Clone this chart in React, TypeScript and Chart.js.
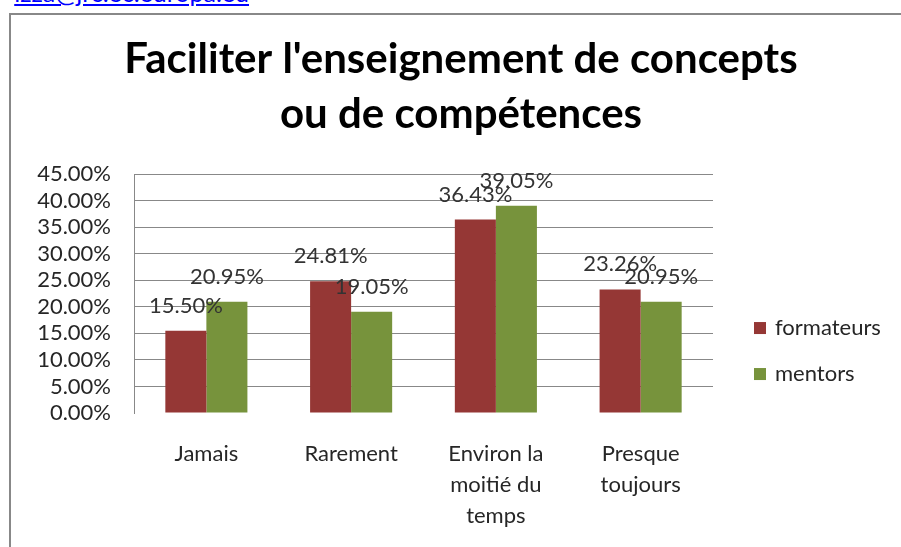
import React, { useEffect, useRef } from "react";
import { Chart, registerables } from "chart.js";

Chart.register(...registerables);

const categories: (string | string[])[] = [
  "Jamais",
  "Rarement",
  ["Environ la", "moitié du", "temps"],
  ["Presque", "toujours"],
];
const formateurs = [15.5, 24.81, 36.43, 23.26];
const mentors = [20.95, 19.05, 39.05, 20.95];
const seriesNames = ["formateurs", "mentors"];
const seriesColors = ["#953735", "#77933C"];
const titleLines = ["Faciliter l'enseignement de concepts", "ou de compétences"];
const yMin = 0;
const yMax = 45;
const yStep = 5;

const FONT = "Lato, 'Open Sans', sans-serif";
const TXT = 22;

const dataLabels = {
  id: "dataLabels",
  afterDatasetsDraw(chart: any) {
    const ctx = chart.ctx;
    ctx.save();
    ctx.font = `${TXT}px ${FONT}`;
    ctx.fillStyle = "#333333";
    ctx.textAlign = "center";
    ctx.textBaseline = "alphabetic";
    chart.data.datasets.forEach((ds: any, di: number) => {
      const meta = chart.getDatasetMeta(di);
      meta.data.forEach((bar: any, i: number) => {
        ctx.fillText(Number(ds.data[i]).toFixed(2) + "%", bar.x, bar.y - 18);
      });
    });
    ctx.restore();
  },
};

const sideLegend = {
  id: "sideLegend",
  afterDraw(chart: any) {
    const ctx = chart.ctx;
    const area = chart.chartArea;
    ctx.save();
    ctx.font = `${TXT}px ${FONT}`;
    ctx.textAlign = "left";
    ctx.textBaseline = "middle";
    chart.data.datasets.forEach((ds: any, i: number) => {
      const cy = area.top + 154 + i * 46;
      const bx = area.right + 41;
      ctx.fillStyle = ds.backgroundColor;
      ctx.fillRect(bx, cy - 6, 12, 12);
      ctx.fillStyle = "#262626";
      ctx.fillText(ds.label, bx + 21, cy);
    });
    ctx.restore();
  },
};

export default function App() {
  const canvasRef = useRef<HTMLCanvasElement | null>(null);

  useEffect(() => {
    let chart: Chart | null = null;
    let cancelled = false;
    const build = () => {
      if (cancelled || !canvasRef.current) return;
      chart = new Chart(canvasRef.current, {
        type: "bar",
        data: {
          labels: categories as any,
          datasets: [
            {
              label: seriesNames[0],
              data: formateurs,
              backgroundColor: seriesColors[0],
              categoryPercentage: 0.567,
              barPercentage: 1,
            },
            {
              label: seriesNames[1],
              data: mentors,
              backgroundColor: seriesColors[1],
              categoryPercentage: 0.567,
              barPercentage: 1,
            },
          ],
        },
        options: {
          animation: false,
          responsive: false,
          layout: { padding: { left: 10, right: 0, top: 0, bottom: 0 } },
          plugins: {
            legend: { display: false },
            tooltip: { enabled: false },
            title: {
              display: true,
              text: titleLines,
              color: "#000000",
              font: { family: FONT, size: 42, weight: "bold", lineHeight: 1.31 },
              padding: { top: 17, bottom: 32 },
            },
          },
          scales: {
            x: {
              grid: { display: false, drawTicks: false },
              border: { display: false },
              ticks: {
                color: "#262626",
                font: { family: FONT, size: TXT, lineHeight: 1.41 },
                padding: 25,
                maxRotation: 0,
                autoSkip: false,
              },
              afterFit: (s: any) => {
                s.height = 134;
              },
            },
            y: {
              min: yMin,
              max: yMax,
              grid: {
                color: (c: any) => (c.tick && c.tick.value === 0 ? "rgba(0,0,0,0)" : "#888888"),
                drawTicks: false,
                lineWidth: 1,
              },
              border: { display: true, color: "#888888" },
              ticks: {
                stepSize: yStep,
                autoSkip: false,
                color: "#262626",
                font: { family: FONT, size: TXT },
                padding: 23,
                callback: (v: any) => Number(v).toFixed(2) + "%",
              },
              afterFit: (s: any) => {
                s.width = 113;
              },
            },
            yR: {
              position: "right",
              display: true,
              grid: { display: false, drawOnChartArea: false, drawTicks: false },
              border: { display: false },
              ticks: { display: false },
              afterFit: (s: any) => {
                s.width = 188;
              },
            },
          },
        },
        plugins: [dataLabels, sideLegend],
      } as any);
    };
    const fontsReady = (document as any).fonts
      ? Promise.all([
          (document as any).fonts.load(`${TXT}px Lato`),
          (document as any).fonts.load(`bold 42px Lato`),
        ]).catch(() => null)
      : Promise.resolve(null);
    fontsReady.then(build);
    return () => {
      cancelled = true;
      if (chart) chart.destroy();
    };
  }, []);

  return (
    <div
      style={{
        position: "fixed",
        left: 0,
        top: 0,
        width: 901,
        height: 547,
        overflow: "hidden",
        background: "#ffffff",
      }}
    >
      <a
        href="mailto:izza@jrc.ec.europa.eu"
        style={{
          position: "absolute",
          right: 652,
          top: -20,
          fontFamily: FONT,
          fontSize: 25,
          lineHeight: "24px",
          color: "#0000ff",
          textDecoration: "underline",
          whiteSpace: "nowrap",
        }}
      >
        izza@jrc.ec.europa.eu
      </a>
      <div
        style={{
          position: "absolute",
          left: 9,
          top: 13,
          width: 920,
          height: 560,
          border: "2px solid #888888",
          boxSizing: "border-box",
        }}
      >
        <canvas ref={canvasRef} width={890} height={532} style={{ display: "block" }} />
      </div>
    </div>
  );
}
